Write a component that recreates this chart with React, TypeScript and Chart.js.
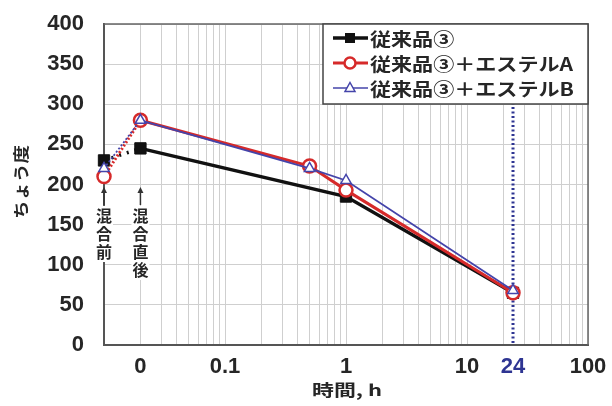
import React, { useEffect, useRef } from "react";
import { Chart, registerables } from "chart.js";
Chart.register(...registerables);

// ---- data ----
const xPositions = [0.01, 0.02, 0.5, 1, 24]; // 混合前, 0 (混合直後), 0.5h, 1h, 24h
const conventional = [230, 245, null, 185, 65];
const esterA = [210, 280, 223, 193, 65];
const esterB = [220, 280, 220, 205, 68];
const seriesNames = ["従来品③", "従来品③＋エステルA", "従来品③＋エステルB"];

const xGridValues = [
  0.01, 0.02, 0.03, 0.04, 0.05, 0.06, 0.07, 0.08, 0.09,
  0.1, 0.2, 0.3, 0.4, 0.5, 0.6, 0.7, 0.8, 0.9,
  1, 2, 3, 4, 5, 6, 7, 8, 9,
  10, 20, 24, 30, 40, 50, 60, 70, 80, 90, 100,
];
const xLabelValues = [0.02, 0.1, 1, 10, 24, 100];
const xLabelTexts = ["0", "0.1", "1", "10", "24", "100"];
const highlightX = 24;

const yMin = 0;
const yMax = 400;
const yStep = 50;

const noteBefore = "混合前";
const noteAfter = "混合直後";
const noteBeforeX = 0.01;
const noteAfterX = 0.02;
const yTitle = "ちょう度";
const xTitle = "時間, h";

const BLACK = "#111111";
const RED = "#d62a2a";
const BLUE = "#4444aa";
const HILITE = "#2e3592";
const GRID = "#cfcfcf";
const TEXT = "#262626";
const NUM_FONT = "'Liberation Sans', Arial, sans-serif";
const JP_FONT = "'Noto Sans CJK JP', 'Noto Sans', sans-serif";

function toPoints(ys: (number | null)[]) {
  const pts: { x: number; y: number }[] = [];
  ys.forEach((y, i) => {
    if (y !== null) pts.push({ x: xPositions[i], y });
  });
  return pts;
}

const dashFirst = (dash: number[]) => (ctx: any) =>
  ctx.p0DataIndex === 0 ? dash : undefined;

function wideText(ctx: any, txt: string, x: number, y: number, sx: number, align: string) {
  ctx.save();
  ctx.translate(x, y);
  ctx.scale(sx, 1);
  ctx.textAlign = align;
  ctx.fillText(txt, 0, 0);
  ctx.restore();
}

const decorPlugin = {
  id: "decor",
  beforeDatasetsDraw(chart: any) {
    const { ctx, chartArea, scales } = chart;
    const x = scales.x.getPixelForValue(highlightX);
    ctx.save();
    ctx.strokeStyle = HILITE;
    ctx.lineWidth = 3;
    ctx.setLineDash([2, 2.5]);
    ctx.beginPath();
    ctx.moveTo(x, chartArea.top + 2);
    ctx.lineTo(x, chartArea.bottom);
    ctx.stroke();
    ctx.restore();
  },
  afterDatasetsDraw(chart: any) {
    const { ctx, chartArea, scales } = chart;
    ctx.save();
    ctx.strokeStyle = "#666";
    ctx.lineWidth = 1.5;
    ctx.beginPath();
    ctx.moveTo(chartArea.left, chartArea.top);
    ctx.lineTo(chartArea.right, chartArea.top);
    ctx.lineTo(chartArea.right, chartArea.bottom);
    ctx.stroke();

    const notes: [number, string][] = [
      [noteBeforeX, noteBefore],
      [noteAfterX, noteAfter],
    ];
    ctx.font = `bold 16px ${JP_FONT}`;
    ctx.textAlign = "center";
    ctx.textBaseline = "middle";
    notes.forEach(([xv, txt]) => {
      const x = scales.x.getPixelForValue(xv);
      ctx.strokeStyle = "#333";
      ctx.fillStyle = "#333";
      ctx.lineWidth = 1.5;
      ctx.beginPath();
      ctx.moveTo(x, 190);
      ctx.lineTo(x, 205);
      ctx.stroke();
      ctx.beginPath();
      ctx.moveTo(x, 187);
      ctx.lineTo(x - 3, 193);
      ctx.lineTo(x + 3, 193);
      ctx.closePath();
      ctx.fill();
      const chars = Array.from(txt);
      ctx.fillStyle = "#fff";
      ctx.fillRect(x - 9, 206, 18, chars.length * 18 + 2);
      ctx.fillStyle = TEXT;
      chars.forEach((c, i) => {
        ctx.fillText(c, x, 216 + i * 18);
      });
    });

    const lx = 323, ly = chartArea.top, lw = chartArea.right - 323, lh = 80;
    ctx.fillStyle = "#fff";
    ctx.fillRect(lx, ly, lw, lh);
    ctx.strokeStyle = "#444";
    ctx.lineWidth = 1.5;
    ctx.strokeRect(lx, ly, lw, lh);
    const rows = [
      { color: BLACK, w: 3.5, style: "rect" },
      { color: RED, w: 3, style: "circle" },
      { color: BLUE, w: 1.5, style: "triangle" },
    ];
    ctx.font = `bold 18px ${JP_FONT}`;
    ctx.textBaseline = "middle";
    rows.forEach((r, i) => {
      const y = 38 + i * 25;
      ctx.strokeStyle = r.color;
      ctx.lineWidth = r.w;
      ctx.beginPath();
      ctx.moveTo(333, y);
      ctx.lineTo(368, y);
      ctx.stroke();
      if (r.style === "rect") {
        ctx.fillStyle = BLACK;
        ctx.fillRect(345, y - 5, 10, 10);
      } else if (r.style === "circle") {
        ctx.fillStyle = "#fff";
        ctx.lineWidth = 2.5;
        ctx.beginPath();
        ctx.arc(350, y, 5.5, 0, Math.PI * 2);
        ctx.fill();
        ctx.stroke();
      } else {
        ctx.fillStyle = "#fff";
        ctx.lineWidth = 1.5;
        ctx.beginPath();
        ctx.moveTo(350, y - 5.5);
        ctx.lineTo(355, y + 3.5);
        ctx.lineTo(345, y + 3.5);
        ctx.closePath();
        ctx.fill();
        ctx.stroke();
      }
      ctx.fillStyle = TEXT;
      wideText(ctx, seriesNames[i], 370, y + 1, 1.17, "left");
    });

    ctx.fillStyle = TEXT;
    ctx.font = `bold 16px ${JP_FONT}`;
    ctx.textBaseline = "middle";
    const tw = ctx.measureText(xTitle).width;
    wideText(ctx, xTitle, 347, 390, 70 / tw, "center");
    ctx.save();
    ctx.translate(21, 182);
    ctx.rotate(-Math.PI / 2);
    const yw = ctx.measureText(yTitle).width;
    wideText(ctx, yTitle, 0, 0, 74 / yw, "center");
    ctx.restore();
    ctx.restore();
  },
};

export default function App() {
  const ref = useRef<HTMLCanvasElement | null>(null);
  useEffect(() => {
    document.body.style.margin = "0";
    const canvas = ref.current!;
    const chart = new Chart(canvas, {
      type: "line",
      data: {
        datasets: [
          {
            label: seriesNames[0],
            data: toPoints(conventional),
            borderColor: BLACK,
            backgroundColor: BLACK,
            borderWidth: 3.5,
            pointStyle: "rect",
            pointRadius: 8,
            pointBorderWidth: 1,
            pointBackgroundColor: BLACK,
            pointBorderColor: BLACK,
            segment: { borderDash: dashFirst([2, 6]) },
            order: 2,
            clip: false,
          },
          {
            label: seriesNames[1],
            data: toPoints(esterA),
            borderColor: RED,
            backgroundColor: "#fff",
            borderWidth: 3,
            pointStyle: "circle",
            pointRadius: 6.5,
            pointBorderWidth: 2.5,
            pointBackgroundColor: "#fff",
            pointBorderColor: RED,
            segment: { borderDash: dashFirst([2, 2]) },
            order: 1,
            clip: false,
          },
          {
            label: seriesNames[2],
            data: toPoints(esterB),
            borderColor: BLUE,
            backgroundColor: "#fff",
            borderWidth: 1.8,
            pointStyle: "triangle",
            pointRadius: 6,
            pointBorderWidth: 1.5,
            pointBackgroundColor: "#fff",
            pointBorderColor: BLUE,
            segment: { borderDash: dashFirst([2, 2]) },
            order: 0,
            clip: false,
          },
        ],
      },
      options: {
        responsive: false,
        animation: false,
        layout: { padding: { left: 0, right: 24, top: 24, bottom: 0 } },
        plugins: { legend: { display: false }, tooltip: { enabled: false } },
        scales: {
          x: {
            type: "logarithmic",
            min: 0.01,
            max: 100,
            afterBuildTicks: (scale: any) => {
              scale.ticks = xGridValues.map((v) => ({ value: v }));
            },
            afterFit: (scale: any) => {
              scale.height = 61;
              scale.paddingLeft = 0;
              scale.paddingRight = 0;
            },
            ticks: {
              autoSkip: false,
              maxRotation: 0,
              minRotation: 0,
              padding: 9,
              font: { family: NUM_FONT, size: 22, weight: "bold" },
              color: (ctx: any) =>
                ctx.tick && ctx.tick.value === highlightX ? HILITE : TEXT,
              callback: (value: any) => {
                const idx = xLabelValues.indexOf(Number(value));
                return idx >= 0 ? xLabelTexts[idx] : "";
              },
            },
            grid: {
              drawTicks: false,
              color: (ctx: any) =>
                ctx.tick && ctx.tick.value === highlightX ? "rgba(0,0,0,0)" : GRID,
              lineWidth: 1,
            },
            border: { color: "#555", width: 2 },
          },
          y: {
            min: yMin,
            max: yMax,
            afterFit: (scale: any) => {
              scale.width = 104;
              scale.paddingTop = 0;
              scale.paddingBottom = 0;
            },
            ticks: {
              stepSize: yStep,
              padding: 20,
              font: { family: NUM_FONT, size: 22, weight: "bold" },
              color: TEXT,
            },
            grid: { drawTicks: false, color: GRID, lineWidth: 1 },
            border: { color: "#555", width: 2 },
          },
        },
      },
      plugins: [decorPlugin],
    });
    return () => chart.destroy();
  }, []);
  return (
    <canvas
      ref={ref}
      width={612}
      height={406}
      style={{ display: "block", width: 612, height: 406 }}
    />
  );
}
